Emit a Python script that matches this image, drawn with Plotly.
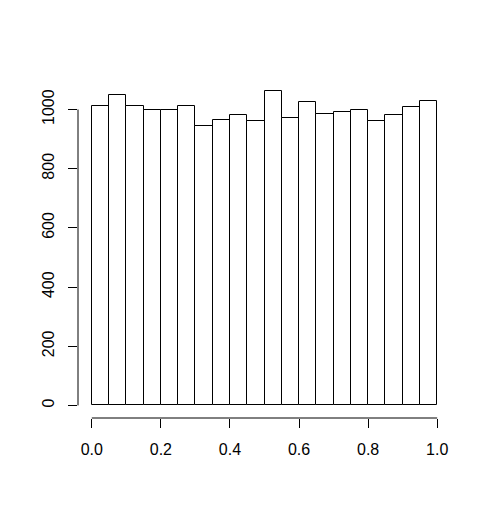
import plotly.graph_objects as go

# histogram bins (breaks every 0.05) and counts
bin_left = [0.00, 0.05, 0.10, 0.15, 0.20, 0.25, 0.30, 0.35, 0.40, 0.45,
            0.50, 0.55, 0.60, 0.65, 0.70, 0.75, 0.80, 0.85, 0.90, 0.95]
counts = [1011, 1050, 1011, 998, 998, 1013, 943, 963, 983, 962,
          1064, 973, 1026, 986, 991, 1000, 960, 980, 1010, 1030]
bin_width = 0.05
x_ticks = [0.0, 0.2, 0.4, 0.6, 0.8, 1.0]
x_tick_text = ["0.0", "0.2", "0.4", "0.6", "0.8", "1.0"]
y_ticks = [0, 200, 400, 600, 800, 1000]

centers = [b + bin_width / 2 for b in bin_left]

fig = go.Figure(go.Bar(
    x=centers,
    y=counts,
    width=bin_width,
    marker=dict(color="white", line=dict(color="black", width=1)),
    hoverinfo="y",
))

ymax = max(counts)
# page body has an 8px margin, so the figure is a bit smaller than the window
fig.update_layout(
    width=484, height=509,
    margin=dict(l=70, r=41, t=70, b=99),
    paper_bgcolor="white", plot_bgcolor="white",
    font=dict(family="Liberation Sans, Arial, sans-serif", size=16, color="black"),
    showlegend=False,
    bargap=0,
)
fig.update_xaxes(
    range=[-0.04, 1.04], tickvals=x_ticks, ticktext=x_tick_text,
    ticks="outside", ticklen=9, tickcolor="black", tickwidth=1,
    showgrid=False, zeroline=False, showline=False,
    ticklabelstandoff=8,
)
fig.update_yaxes(
    range=[-0.04 * ymax, 1.04 * ymax], tickvals=y_ticks,
    ticks="outside", ticklen=9, tickcolor="black", tickwidth=1,
    showgrid=False, zeroline=False, showline=False,
    tickangle=-90, ticklabelstandoff=8,
)

# R style axis lines that only run between the first and last tick
fig.add_shape(type="line", xref="x", yref="paper", x0=x_ticks[0], x1=x_ticks[-1],
              y0=0, y1=0, line=dict(color="black", width=1))
fig.add_shape(type="line", xref="paper", yref="y", x0=0, x1=0,
              y0=y_ticks[0], y1=y_ticks[-1], line=dict(color="black", width=1))

fig.write_html("out.html")
